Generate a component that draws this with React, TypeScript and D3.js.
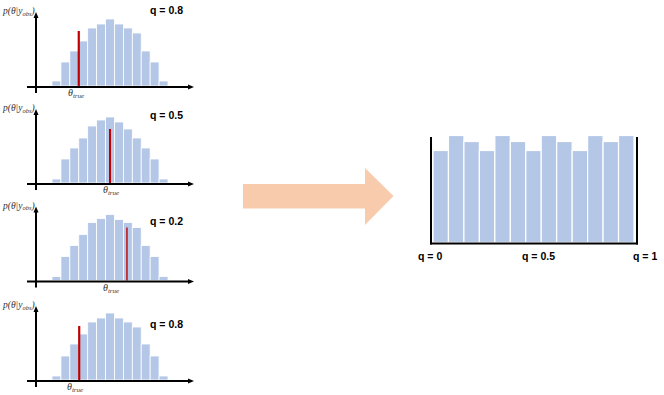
import * as d3 from 'd3';
import React from 'react';

// posterior histograms, one per simulated dataset (13 bins each)
const posteriorA = [5, 24, 35, 45, 58, 62, 67, 62, 58, 53, 35, 24, 5];
const posteriorB = [4, 24, 35, 45, 57, 63, 66, 61, 54, 45, 35, 24, 4];
const posteriorC = [4, 24, 35, 46, 58, 62, 66, 61, 58, 53, 35, 24, 4];
const posteriorD = [4, 24, 36, 46, 58, 62, 67, 62, 58, 53, 36, 24, 4];
const posteriors = [posteriorA, posteriorB, posteriorC, posteriorD];

// where theta_true falls (in bin units) and how tall the marker is
const thetaTrue = [3.0, 6.5, 8.4, 3.05];
const trueHeight = [55, 54, 53, 54];
const qLabels = ['q = 0.8', 'q = 0.5', 'q = 0.2', 'q = 0.8'];

// rank histogram of q
const rankCounts = [92, 107, 101, 92, 107, 101, 92, 107, 101, 92, 107, 101, 107];
const rankTicks = ['q = 0', 'q = 0.5', 'q = 1'];
const rankTickPos = [0, 0.5, 1];

const BAR = '#B4C7E7';
const RED = '#C00000';

// layout
const axisYs = [87, 184, 281.5, 381];
const qLabelY = [14, 119, 225, 328];
const thetaLabelX = [68, 103, 103, 67];
const redWidth = [2.2, 2, 1.4, 2.2];

function Arrowhead({ x, y, dir }: { x: number; y: number; dir: 'up' | 'right' }) {
  const pts = dir === 'up'
    ? [[x, y], [x - 2.5, y + 6], [x + 2.5, y + 6]]
    : [[x, y], [x - 6, y - 2.5], [x - 6, y + 2.5]];
  return <polygon points={pts.map(p => p.join(',')).join(' ')} fill="#000" />;
}

function Posterior({ i }: { i: number }) {
  const axisY = axisYs[i];
  const base = axisY - 1;
  const data = posteriors[i];
  const x = d3.scaleLinear().domain([0, data.length]).range([52, 168]);
  const y = d3.scaleLinear().domain([0, 70]).range([base, base - 70]);
  const w = x(1) - x(0);
  const tx = x(thetaTrue[i]);
  return (
    <g>
      {data.map((v, k) => (
        <rect key={k} x={x(k)} y={y(v)} width={w} height={base - y(v)}
          fill={BAR} stroke="#fff" strokeWidth={0.8} />
      ))}
      <line x1={tx} x2={tx} y1={base} y2={y(trueHeight[i])} stroke={RED} strokeWidth={redWidth[i]} />
      {/* axes */}
      <line x1={27} x2={190} y1={axisY} y2={axisY} stroke="#000" strokeWidth={2} />
      <Arrowhead x={194} y={axisY} dir="right" />
      <line x1={36} x2={36} y1={axisY + 6} y2={axisY - 70} stroke="#000" strokeWidth={2} />
      <Arrowhead x={36} y={axisY - 75} dir="up" />
      <text x={3} y={axisY - 73} fill="#333" fontFamily="'Liberation Serif', serif" fontStyle="italic" fontSize={9.5}>
        p(θ|y<tspan fontSize={6.5} dy={1.5}>obs</tspan><tspan dy={-1.5}>)</tspan>
      </text>
      <text x={thetaLabelX[i]} y={axisY + 9} fill="#333" fontFamily="'Liberation Serif', serif" fontStyle="italic" fontSize={10}>
        θ<tspan fontSize={7} dy={2}>true</tspan>
      </text>
      <text x={150} y={qLabelY[i]} fontFamily="'Liberation Sans', Arial, sans-serif" fontWeight="bold" fontSize={10.5}>
        {qLabels[i]}
      </text>
    </g>
  );
}

function RankHistogram() {
  const base = 242.5;
  const x = d3.scaleLinear().domain([0, rankCounts.length]).range([433, 634]);
  const y = d3.scaleLinear().domain([0, 110]).range([base, base - 110]);
  const q = d3.scaleLinear().domain([0, 1]).range([418, 633]);
  const w = x(1) - x(0);
  return (
    <g>
      {rankCounts.map((v, k) => (
        <rect key={k} x={x(k)} y={y(v)} width={w} height={base - y(v)}
          fill={BAR} stroke="#fff" strokeWidth={1.2} />
      ))}
      <line x1={431} x2={431} y1={137} y2={244.5} stroke="#000" strokeWidth={2} />
      <line x1={637} x2={637} y1={137} y2={244.5} stroke="#000" strokeWidth={2} />
      <line x1={430} x2={638} y1={243.5} y2={243.5} stroke="#000" strokeWidth={2} />
      {rankTicks.map((t, k) => (
        <text key={t} x={q(rankTickPos[k])} y={260} textAnchor={k === 1 ? 'middle' : 'start'}
          dx={k === 1 ? 13 : 0}
          fontFamily="'Liberation Sans', Arial, sans-serif" fontWeight="bold" fontSize={10.5}>
          {t}
        </text>
      ))}
    </g>
  );
}

function BigArrow() {
  const path = d3.path();
  path.moveTo(243, 184);
  path.lineTo(365, 184);
  path.lineTo(365, 168);
  path.lineTo(393.5, 196);
  path.lineTo(365, 225);
  path.lineTo(365, 208.5);
  path.lineTo(243, 208.5);
  path.closePath();
  return <path d={path.toString()} fill="#F8CBAD" />;
}

export default function App() {
  return (
    <svg width={664} height={395} style={{ position: 'absolute', left: 0, top: 0, background: '#fff' }}>
      {posteriors.map((_, i) => <Posterior key={i} i={i} />)}
      <BigArrow />
      <RankHistogram />
    </svg>
  );
}
